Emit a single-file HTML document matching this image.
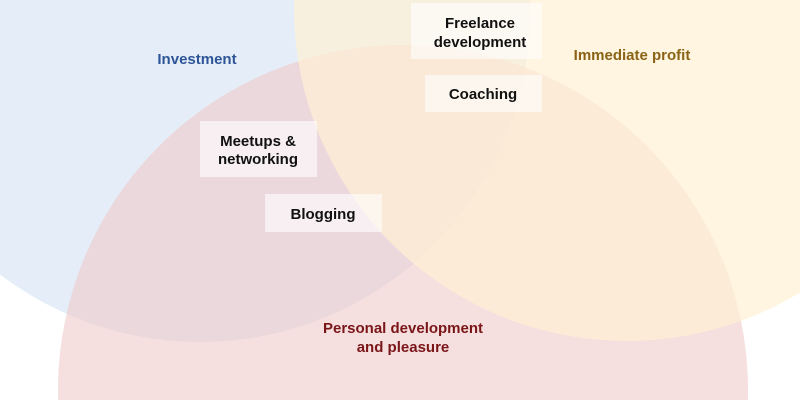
<!DOCTYPE html>
<html><head><meta charset="utf-8"><style>
html,body{margin:0;padding:0;width:800px;height:400px;overflow:hidden;background:#fff;font-family:"Liberation Sans",sans-serif}
svg{display:block;overflow:hidden}
text{font-family:"Liberation Sans",sans-serif;font-weight:bold}
</style></head><body>
<svg width="800" height="400" viewBox="0 0 800 400">
<circle cx="200" cy="12" r="330" fill="#e5eef8"/>
<circle cx="403" cy="390" r="345" fill="#eecaca" opacity="0.6"/>
<circle cx="627" cy="8" r="333" fill="#fff1d3" opacity="0.7"/>
<g fill="#fff" opacity="0.6">
<rect x="411" y="3" width="131" height="56"/>
<rect x="425" y="75" width="117" height="37"/>
<rect x="200" y="121" width="117" height="56"/>
<rect x="265" y="194" width="117" height="38"/>
</g>
<g font-size="15" fill="#111" text-anchor="middle">
<text x="480" y="28">Freelance</text>
<text x="480" y="47">development</text>
<text x="483" y="99">Coaching</text>
<text x="258" y="146">Meetups &amp;</text>
<text x="258" y="164">networking</text>
<text x="323" y="219">Blogging</text>
</g>
<text x="197" y="64" font-size="15" fill="#2d5597" text-anchor="middle">Investment</text>
<text x="632" y="60" font-size="15" fill="#8a6316" text-anchor="middle">Immediate profit</text>
<g font-size="15" fill="#7a1518" text-anchor="middle">
<text x="403" y="333">Personal development</text>
<text x="403" y="352">and pleasure</text>
</g>
</svg>
</body></html>
